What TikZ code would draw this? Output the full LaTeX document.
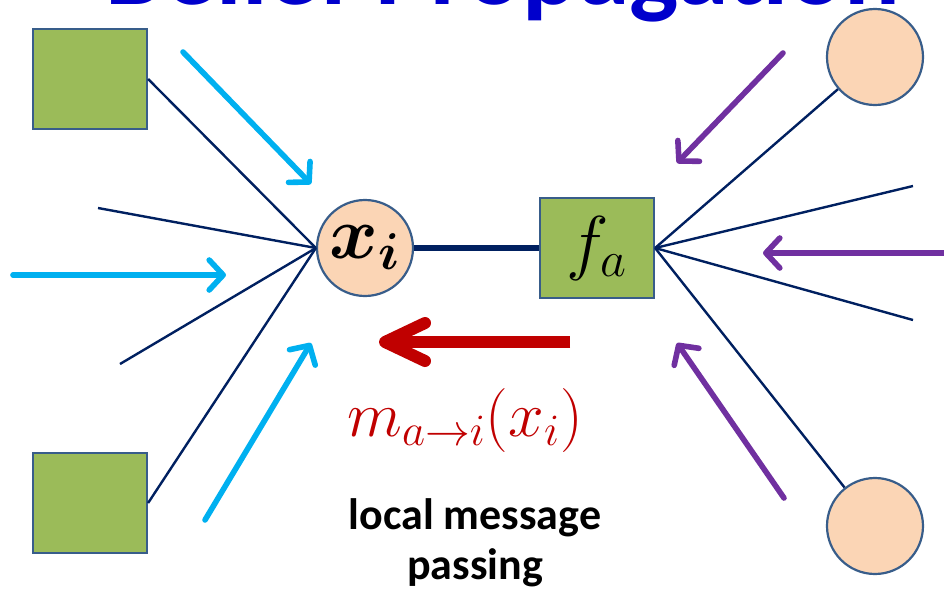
\RequirePackage{fix-cm}
\documentclass[tikz,border=0pt]{standalone}
\usepackage{bm}
\usepackage{fontspec}
\setsansfont{Carlito}
\usetikzlibrary{arrows.meta, positioning, calc}
\definecolor{BPNavy}{RGB}{0, 32, 96}
\definecolor{BPCyan}{RGB}{0, 176, 240}
\definecolor{BPPurple}{RGB}{112, 48, 160}
\definecolor{BPRed}{RGB}{192, 0, 0}
\definecolor{BPTitle}{RGB}{0, 0, 204}
\definecolor{BPGreen}{RGB}{155, 187, 89}
\definecolor{BPPeach}{RGB}{251, 213, 181}
\definecolor{BPBorder}{RGB}{56, 93, 138}

\tikzset{
  factornode/.style={rectangle, fill=BPGreen, draw=BPBorder, line width=1.1pt,
    minimum width=57pt, minimum height=50pt, inner sep=0pt},
  varnode/.style={circle, fill=BPPeach, draw=BPBorder, line width=1.1pt,
    minimum size=48pt, inner sep=0pt},
  link/.style={draw=BPNavy, line width=1.2pt},
  msg/.style={line width=2.8pt, line cap=round,
    -{Straight Barb[round, length=7pt, width=15pt]}},
}

\begin{document}
\begin{tikzpicture}[x=0.5pt, y=-0.5pt]
  \clip (0,0) rectangle (944,590);
  \useasboundingbox (0,0) rectangle (944,590);

  % title, cut by the top edge
  \node[anchor=base, text=BPTitle, inner sep=0pt,
    font=\sffamily\bfseries\fontsize{52}{56}\selectfont] (title) at (503,4) {Belief Propagation};

  % factor graph
  \node[varnode, font=\fontsize{37}{40}\selectfont] (xi) at (365,248) {$\bm{x}_{\bm{i}}$};
  \node[factornode, font=\fontsize{36}{40}\selectfont] (fa) at (597,248) {$f_a$};
  \node[factornode] (fl1) at (90,79) {};
  \node[factornode] (fl2) at (90,503) {};
  \node[varnode] (xr1) at (875,57) {};
  \node[varnode] (xr2) at (875,526) {};

  \coordinate (el1) at (98,208);
  \coordinate (el2) at (120,364);
  \coordinate (er1) at (913,186);
  \coordinate (er2) at (913,320);

  \draw[link] (fl1.east) -- (xi.west);
  \draw[link] (el1) -- (xi.west);
  \draw[link] (el2) -- (xi.west);
  \draw[link] (fl2.east) -- (xi.west);
  \draw[link] (fa.east) -- (xr1);
  \draw[link] (fa.east) -- (er1);
  \draw[link] (fa.east) -- (er2);
  \draw[link] (fa.east) -- (xr2);
  \draw[draw=BPNavy, line width=2.6pt] (xi) -- (fa);

  % incoming messages
  \coordinate (cs1) at (183,52);   \coordinate (ct1) at (311,184);
  \coordinate (cs2) at (13,275);   \coordinate (ct2) at (226,275);
  \coordinate (cs3) at (205,520);  \coordinate (ct3) at (311,343);
  \draw[msg, BPCyan] (cs1) -- (ct1);
  \draw[msg, BPCyan] (cs2) -- (ct2);
  \draw[msg, BPCyan] (cs3) -- (ct3);

  \coordinate (ps1) at (783,53);   \coordinate (pt1) at (677,163);
  \coordinate (ps2) at (950,253);  \coordinate (pt2) at (763,253);
  \coordinate (ps3) at (784,498);  \coordinate (pt3) at (677,343);
  \draw[msg, BPPurple] (ps1) -- (pt1);
  \draw[msg, BPPurple] (ps2) -- (pt2);
  \draw[msg, BPPurple] (ps3) -- (pt3);

  % outgoing message
  \coordinate (rs) at (570,342);   \coordinate (rt) at (379,342);
  \draw[BPRed, line width=6pt, -{Straight Barb[round, length=20pt, width=19pt]}] (rs) -- (rt);

  \node[text=BPRed, font=\fontsize{32}{34}\selectfont] (msglabel) at (465,420) {$m_{a\to i}(x_i)$};
  \node[font=\sffamily\bfseries\fontsize{22}{25}\selectfont, align=center] (caption) at (475,543) {local message\\passing};
\end{tikzpicture}
\end{document}
